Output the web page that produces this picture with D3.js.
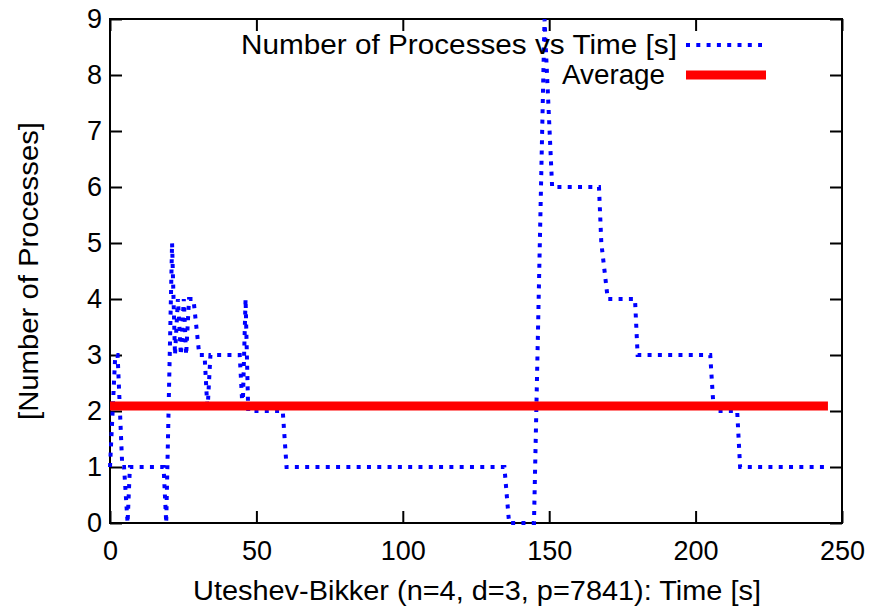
<!doctype html>
<html>
  <head>
    <script src="https://d3js.org/d3.v7.min.js"></script>
    <style>
      body { margin: 0; background: #fff; overflow: hidden; }
      svg { display: block; }
    </style>
  </head>
  <body>
    <script>
    // sampled process counts (time in s, count)
    var times = [0, 1.8, 2.6, 4.2, 4.8, 6, 6.8, 18.3, 19.2, 21.2, 22.2, 23.2, 24.2, 25.2, 26, 27, 28.5, 30.5,
                 32.3, 33.3, 34.3, 44.3, 45.3, 46.3, 47.2, 59, 60.3, 134.7, 136.3, 144.8, 148.4, 151,
                 167, 167.8, 170, 179.3, 180.2, 205, 206.2, 214.2, 215.2, 245.2];
    var counts = [1, 3, 3, 1, 1, 0, 1, 1, 0, 5, 3, 4, 3, 4, 3, 4, 4, 3,
                  3, 2, 3, 3, 2, 4, 2, 2, 1, 1, 0, 0, 9, 6,
                  6, 5, 4, 4, 3, 3, 2, 2, 1, 1];
    var average = 2.09;
    var xTicks = [0, 50, 100, 150, 200, 250];
    var yTicks = [0, 1, 2, 3, 4, 5, 6, 7, 8, 9];
    var seriesNames = ['Number of Processes vs Time [s]', 'Average'];

    var width = 874;
    var height = 613;
    var margin = { top: 19, right: 32, bottom: 90, left: 110 };
    var innerWidth = width - margin.left - margin.right;
    var innerHeight = height - margin.top - margin.bottom;
    var font = '"Liberation Sans", Arial, Helvetica, sans-serif';
    var fontSize = '27px';

    var data = times.map(function(t, i) { return { t: t, n: counts[i] }; });

    var svg = d3.select('body')
      .append('svg')
      .attr('width', width)
      .attr('height', height)
      .style('font-family', font);

    var g = svg.append('g')
      .attr('transform', 'translate(' + margin.left + ',' + margin.top + ')');

    var x = d3.scaleLinear().domain([0, 250]).range([0, innerWidth]);
    var y = d3.scaleLinear().domain([0, 9]).range([innerHeight, 0]);

    function styleAxis(sel, showText) {
      sel.select('.domain').remove();
      sel.selectAll('line').attr('stroke', '#000').attr('stroke-width', 2);
      sel.selectAll('text')
        .attr('fill', '#000')
        .style('font-size', fontSize)
        .style('font-family', font)
        .style('display', showText ? null : 'none');
    }

    g.append('g')
      .attr('transform', 'translate(0,' + innerHeight + ')')
      .call(d3.axisBottom(x).tickValues(xTicks).tickSize(-12).tickPadding(18))
      .call(styleAxis, true);

    g.append('g')
      .call(d3.axisTop(x).tickValues(xTicks).tickSize(-12))
      .call(styleAxis, false);

    g.append('g')
      .call(d3.axisLeft(y).tickValues(yTicks).tickSize(-12).tickPadding(8))
      .call(styleAxis, true);

    g.append('g')
      .attr('transform', 'translate(' + innerWidth + ',0)')
      .call(d3.axisRight(y).tickValues(yTicks).tickSize(-12))
      .call(styleAxis, false);

    // frame
    g.append('rect')
      .attr('x', 0)
      .attr('y', 0)
      .attr('width', innerWidth)
      .attr('height', innerHeight)
      .attr('fill', 'none')
      .attr('stroke', '#000')
      .attr('stroke-width', 2);

    var line = d3.line()
      .x(function(d) { return x(d.t); })
      .y(function(d) { return y(d.n); });

    g.append('path')
      .datum(data)
      .attr('fill', 'none')
      .attr('stroke', '#0000ff')
      .attr('stroke-width', 4)
      .attr('stroke-dasharray', '4,6.3')
      .attr('d', line);

    g.append('line')
      .attr('x1', x(times[0]))
      .attr('x2', x(times[times.length - 1]))
      .attr('y1', y(average))
      .attr('y2', y(average))
      .attr('stroke', '#ff0000')
      .attr('stroke-width', 9);

    // legend (text widths matched to the wider original glyphs)
    var legend = [
      { name: seriesNames[0], color: '#0000ff', w: 4, dash: '4,6.3', textX: 567, len: 436, lineTo: 652, y: 26 },
      { name: seriesNames[1], color: '#ff0000', w: 9, dash: null, textX: 555, len: 103, lineTo: 656, y: 56 }
    ];

    legend.forEach(function(l) {
      g.append('text')
        .attr('x', l.textX)
        .attr('y', l.y)
        .attr('dy', '0.35em')
        .attr('text-anchor', 'end')
        .attr('textLength', l.len)
        .attr('lengthAdjust', 'spacingAndGlyphs')
        .style('font-size', fontSize)
        .text(l.name);
      g.append('line')
        .attr('x1', 576)
        .attr('x2', l.lineTo)
        .attr('y1', l.y)
        .attr('y2', l.y)
        .attr('stroke', l.color)
        .attr('stroke-width', l.w)
        .attr('stroke-dasharray', l.dash);
    });

    // axis titles
    svg.append('text')
      .attr('x', 477)
      .attr('y', 600)
      .attr('text-anchor', 'middle')
      .attr('textLength', 568)
      .attr('lengthAdjust', 'spacingAndGlyphs')
      .style('font-size', fontSize)
      .text('Uteshev-Bikker (n=4, d=3, p=7841): Time [s]');

    svg.append('text')
      .attr('transform', 'translate(38,' + (margin.top + innerHeight / 2) + ') rotate(-90)')
      .attr('text-anchor', 'middle')
      .attr('textLength', 298)
      .attr('lengthAdjust', 'spacingAndGlyphs')
      .style('font-size', fontSize)
      .text('[Number of Processes]');
    </script>
  </body>
</html>
